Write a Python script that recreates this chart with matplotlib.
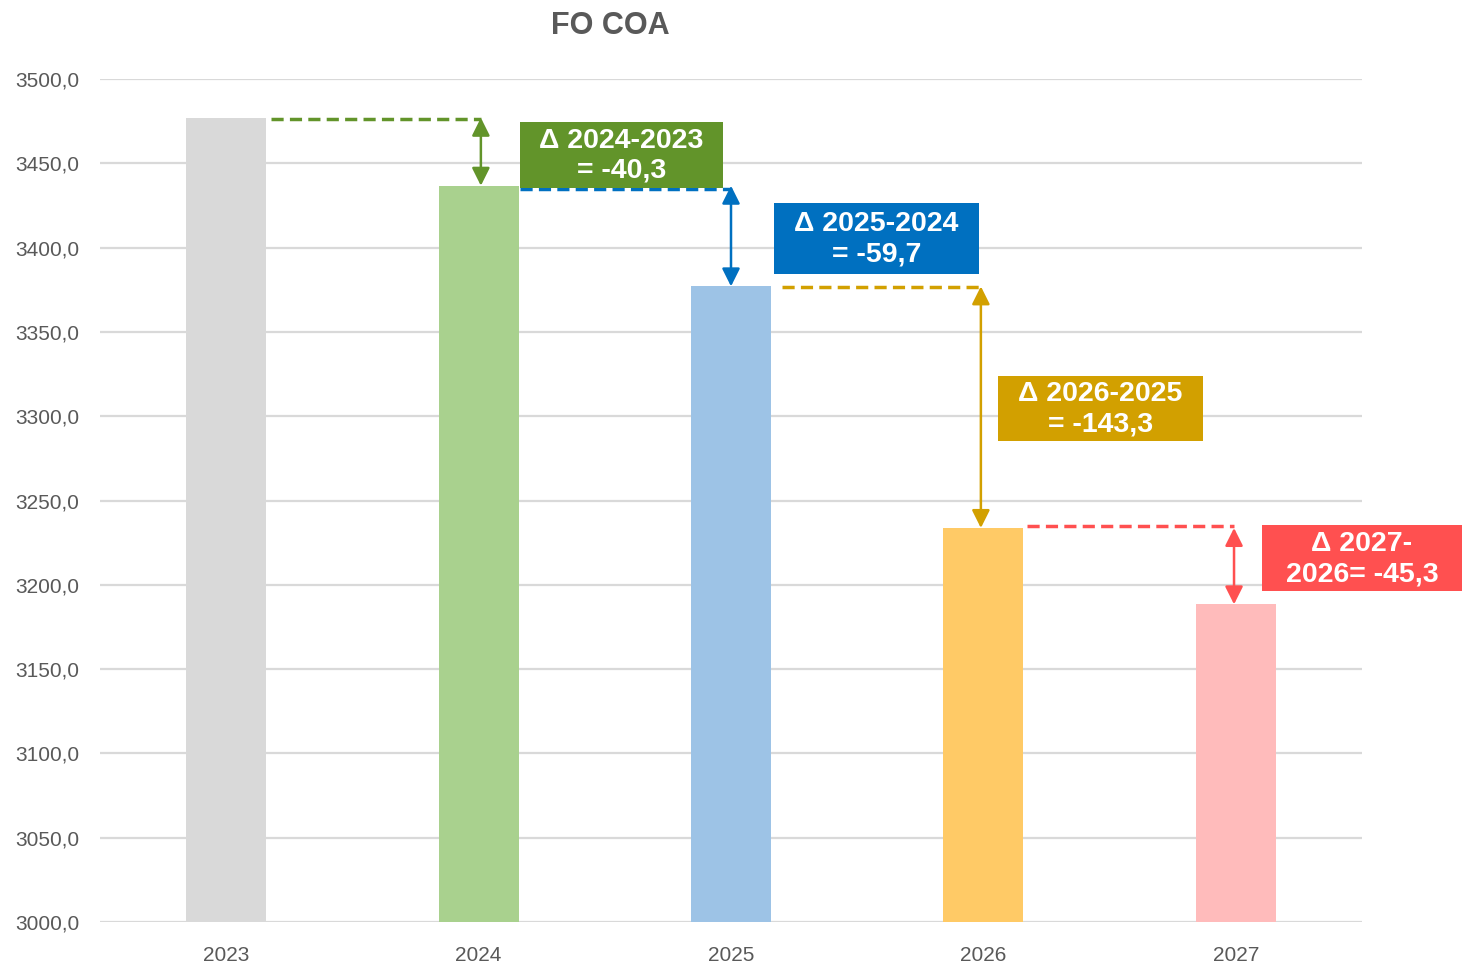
import matplotlib
matplotlib.use("Agg")
import matplotlib.pyplot as plt
from matplotlib.patches import Rectangle
from matplotlib.ticker import FuncFormatter

years = ["2023", "2024", "2025", "2026", "2027"]
values = [3477.0, 3436.7, 3377.0, 3233.7, 3188.4]
bar_colors = ["#D9D9D9", "#A9D18E", "#9DC3E6", "#FFCA66", "#FFBBBB"]
delta_labels = ["Δ 2024-2023\n= -40,3", "Δ 2025-2024\n= -59,7",
                "Δ 2026-2025\n= -143,3", "Δ 2027-\n2026= -45,3"]
delta_colors = ["#62942A", "#0070C0", "#D2A000", "#FF5050"]
# label boxes: (x0, x1, y0, y1) in data units
boxes = [(1.164, 1.968, 3435.4, 3474.5), (2.170, 2.983, 3384.3, 3426.5),
         (3.058, 3.870, 3285.3, 3323.8), (4.104, 4.896, 3196.3, 3235.5)]
dash_start = [0.177, 0.164, 0.202, 0.173]
dash_drop = [1.0, 2.0, 0.5, -1.3]   # small offset of the dashed guide from the bar top
arrow_off = [0.009, 0.0, -0.01, -0.007]

plt.rcParams["font.family"] = ["Liberation Sans", "DejaVu Sans"]
fig = plt.figure(figsize=(14.63, 9.63), dpi=100)
ax = fig.add_axes([100 / 1463, 41 / 963, 1262 / 1463, 843 / 963])

x = range(len(years))
ax.bar(x, [v - 3000 for v in values], 0.317, bottom=3000, color=bar_colors, zorder=2)
ax.set_xlim(-0.5, 4.5)
ax.set_ylim(3000, 3500)
ax.set_yticks(range(3000, 3501, 50))
ax.yaxis.set_major_formatter(FuncFormatter(lambda v, p: f"{v:.1f}".replace(".", ",")))
ax.set_xticks(list(x))
ax.set_xticklabels(years)
ax.grid(axis="y", color="#D9D9D9", lw=1.6, zorder=0)
ax.set_axisbelow(True)
for s in ax.spines.values():
    s.set_visible(False)
ax.tick_params(length=0, labelsize=15, colors="#595959")
ax.tick_params(axis="y", pad=15)
ax.tick_params(axis="x", pad=17)

for i in range(4):
    c = delta_colors[i]
    ax_x = i + 1 + arrow_off[i]
    yd = values[i] - dash_drop[i]
    ax.plot([i + dash_start[i], ax_x], [yd, yd], color=c, lw=2.5,
            ls=(0, (3.5, 1.8)), zorder=3)
    ax.annotate("", xy=(ax_x, values[i + 1]), xytext=(ax_x, values[i]),
                arrowprops=dict(arrowstyle="<|-|>,head_length=0.9,head_width=0.45",
                                color=c, lw=1.8, mutation_scale=12,
                                shrinkA=0, shrinkB=0), zorder=4)
    x0, x1, y0, y1 = boxes[i]
    ax.add_patch(Rectangle((x0, y0), x1 - x0, y1 - y0, facecolor=c,
                           edgecolor="none", clip_on=False, zorder=5))
    ax.text((x0 + x1) / 2, (y0 + y1) / 2 - 0.5, delta_labels[i], ha="center", va="center",
            color="white", fontsize=20.5, fontweight="bold", linespacing=1.22,
            zorder=6, clip_on=False)

fig.text(610 / 1463, 1 - 26 / 963, "FO COA", ha="center", va="center",
         fontsize=22, fontweight="bold", color="#595959")

fig.savefig("out.png", dpi=100)
